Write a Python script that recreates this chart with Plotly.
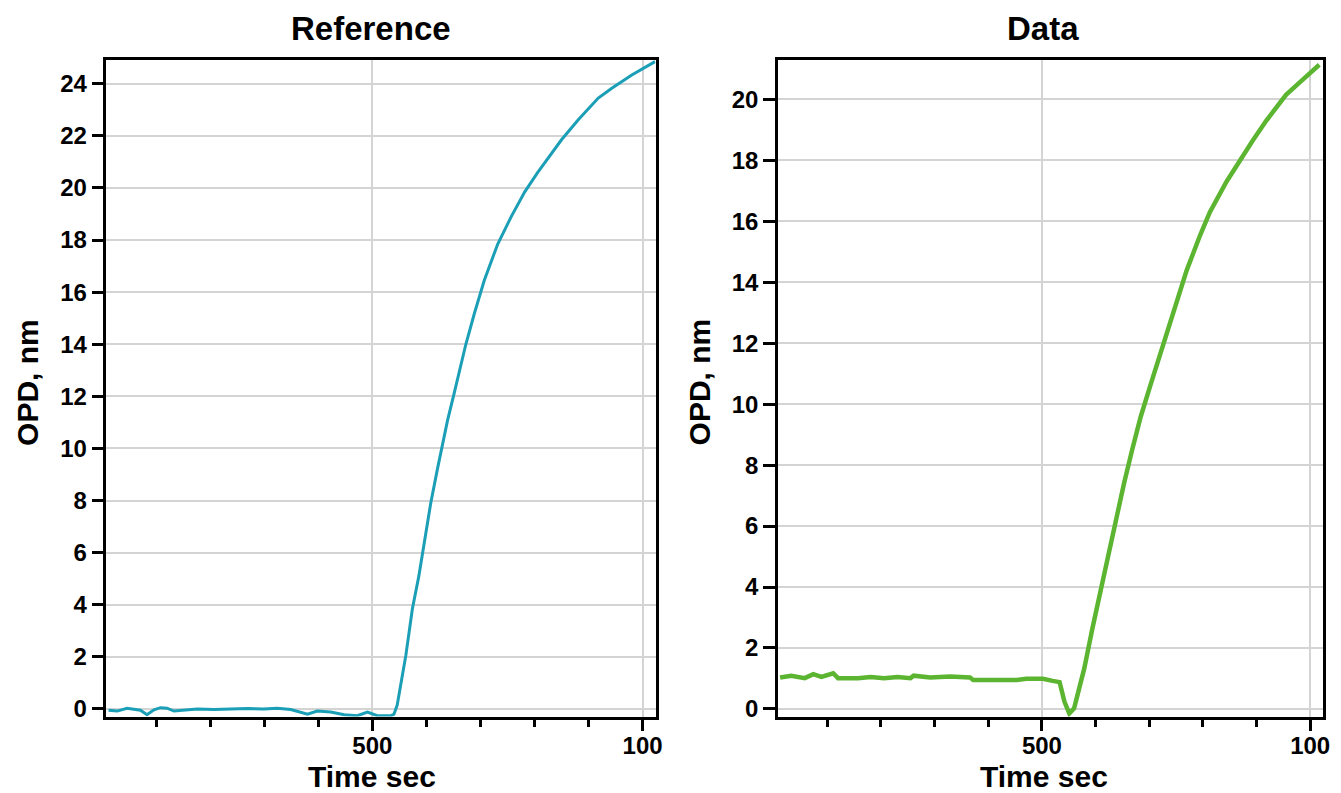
import plotly.graph_objects as go

# ---- data ----
t_reference = [12, 28, 46, 59, 71, 83, 96, 108, 120, 133, 151, 176, 207, 238, 269, 299,
               324, 349, 361, 380, 398, 423, 448, 472, 491, 509, 534, 540, 546, 554, 562,
               574, 586, 596, 608, 620, 630, 639, 651, 673, 689, 707, 732, 757, 782, 806,
               850, 881, 918, 943, 980, 1023]
opd_reference = [-0.05, -0.08, 0.03, 0.0, -0.05, -0.22, -0.03, 0.05, 0.03, -0.08, -0.05, 0.0,
                 -0.02, 0.0, 0.02, 0.0, 0.03, -0.02, -0.1, -0.2, -0.08, -0.12, -0.22, -0.26,
                 -0.12, -0.26, -0.26, -0.2, 0.15, 1.1, 2.06, 3.84, 5.1, 6.37, 7.9, 9.17, 10.18,
                 11.07, 12.09, 14.0, 15.2, 16.45, 17.85, 18.9, 19.85, 20.6, 21.85, 22.62,
                 23.45, 23.83, 24.34, 24.85]

t_data = [12, 33, 58, 74, 89, 111, 120, 157, 181, 206, 231, 255, 261, 292, 329, 366, 372,
          416, 453, 471, 502, 520, 533, 542, 551, 560, 579, 594, 610, 622, 638, 653, 668,
          684, 702, 721, 733, 751, 770, 795, 813, 844, 869, 893, 918, 943, 955, 980, 1017]
opd_data = [1.03, 1.09, 1.01, 1.14, 1.05, 1.17, 1.01, 1.01, 1.05, 1.01, 1.05, 1.01, 1.09,
            1.03, 1.06, 1.03, 0.95, 0.95, 0.95, 0.99, 0.99, 0.92, 0.88, 0.24, -0.15, 0.02,
            1.33, 2.63, 3.93, 5.02, 6.32, 7.4, 8.49, 9.58, 10.61, 11.7, 12.4, 13.4, 14.4,
            15.55, 16.3, 17.3, 18.0, 18.65, 19.3, 19.85, 20.15, 20.55, 21.14]

panel_titles = ["Reference", "Data"]
x_title = "Time sec"
y_title = "OPD, nm"
x_tickvals = [500, 1000]
x_ticktext = ["500", "100"]
x_minor_vals = [100, 200, 300, 400, 600, 700, 800, 900]
y_ticks_left = list(range(0, 25, 2))
y_ticks_right = list(range(0, 21, 2))

W, H = 1341, 793
FONT = "Liberation Sans, Arial, sans-serif"

fig = go.Figure()
fig.add_trace(go.Scatter(x=t_reference, y=opd_reference, mode="lines",
                         line=dict(color="#1a9fb7", width=3), xaxis="x", yaxis="y",
                         showlegend=False))
fig.add_trace(go.Scatter(x=t_data, y=opd_data, mode="lines",
                         line=dict(color="#5cb531", width=4.5), xaxis="x2", yaxis="y2",
                         showlegend=False))

def px_x(p):
    return p / W

def px_y(p):
    return 1 - p / H

top, bottom = 60, 722
common_x = dict(
    range=[8, 1024], tickvals=x_tickvals, ticktext=x_ticktext,
    ticks="outside", ticklen=12, tickwidth=2.5, tickcolor="black",
    ticklabelstandoff=-6,
    showline=True, linecolor="black", linewidth=2.5, mirror=True,
    showgrid=True, gridcolor="#d4d4d4", gridwidth=1.8, zeroline=False,
    tickfont=dict(family=FONT, size=24, color="black", weight="bold"),
    minor=dict(tickvals=x_minor_vals, ticks="outside",
               ticklen=8, tickwidth=2.5, tickcolor="black", showgrid=False),
)
common_y = dict(
    ticks="outside", ticklen=12, tickwidth=2.5, tickcolor="black",
    showline=True, linecolor="black", linewidth=2.5, mirror=True,
    showgrid=True, gridcolor="#d4d4d4", gridwidth=1.8, zeroline=False,
    tickfont=dict(family=FONT, size=24, color="black", weight="bold"),
)

fig.update_layout(
    width=W, height=H,
    margin=dict(l=0, r=0, t=0, b=0),
    paper_bgcolor="white", plot_bgcolor="white",
    xaxis=dict(domain=[px_x(107), px_x(659)], anchor="y", **common_x),
    yaxis=dict(domain=[px_y(bottom), px_y(top)], anchor="x", range=[-0.29, 24.93],
               tickvals=y_ticks_left, **common_y),
    xaxis2=dict(domain=[px_x(782), px_x(1330)], anchor="y2", **common_x),
    yaxis2=dict(domain=[px_y(bottom), px_y(top)], anchor="x2", range=[-0.25, 21.31],
                tickvals=y_ticks_right, **common_y),
)

annots = []
for cx, title in zip([373, 1048], panel_titles):
    annots.append(dict(text=title, x=px_x(cx), y=px_y(29), xref="paper", yref="paper",
                       showarrow=False, xanchor="center", yanchor="middle",
                       font=dict(family=FONT, size=33, color="black", weight="bold")))
    annots.append(dict(text=x_title, x=px_x(cx + 1), y=px_y(782), xref="paper", yref="paper",
                       showarrow=False, xanchor="center", yanchor="middle",
                       font=dict(family=FONT, size=30, color="black", weight="bold")))
for cx in [27, 703]:
    annots.append(dict(text=y_title, x=px_x(cx), y=px_y(385), xref="paper", yref="paper",
                       showarrow=False, xanchor="center", yanchor="middle", textangle=-90,
                       font=dict(family=FONT, size=30, color="black", weight="bold")))
fig.update_layout(annotations=annots)

fig.write_html("out.html", config={"displayModeBar": False},
               post_script="document.body.style.margin='0';document.body.style.overflow='hidden';")
